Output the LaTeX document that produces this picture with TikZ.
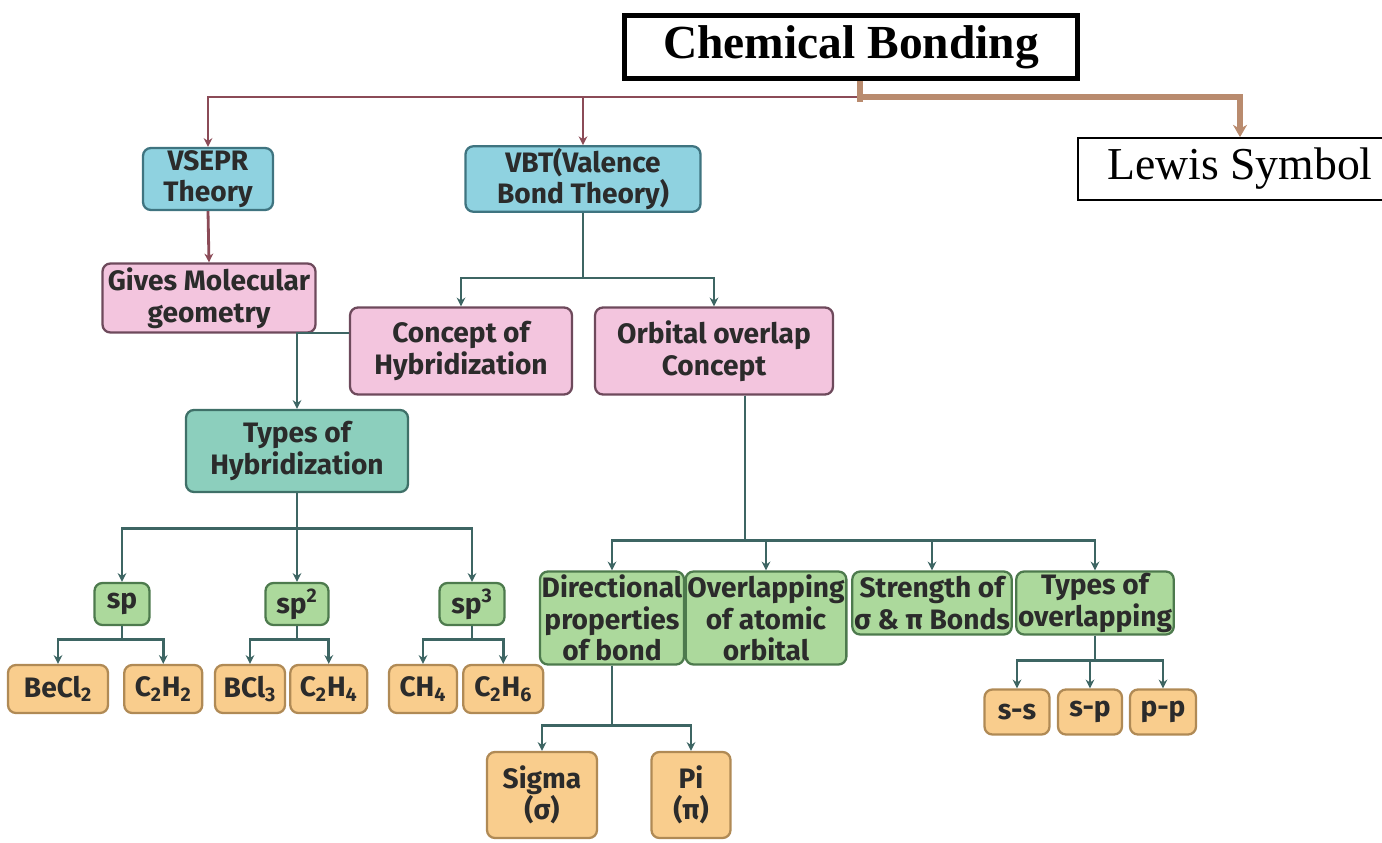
\documentclass[tikz,border=0pt]{standalone}
\usepackage{fontspec}
\setmainfont{Liberation Serif}
\newfontfamily\boxfont{Fira Sans}
\usetikzlibrary{positioning,arrows.meta}

\definecolor{txtc}{HTML}{2B2B2B}
\definecolor{bluef}{HTML}{8FD2E0}\definecolor{blued}{HTML}{3F7480}
\definecolor{pinkf}{HTML}{F3C5DE}\definecolor{pinkd}{HTML}{6E4A5C}
\definecolor{teaf}{HTML}{8CCFBD}\definecolor{tead}{HTML}{3F7068}
\definecolor{greenf}{HTML}{ACD99C}\definecolor{greend}{HTML}{4D7A4D}
\definecolor{orf}{HTML}{F9CD8D}\definecolor{ord}{HTML}{B08A55}
\definecolor{lowc}{HTML}{3D6563}
\definecolor{topc}{HTML}{8B4B57}
\definecolor{brownc}{HTML}{B98B6E}

\begin{document}
\begin{tikzpicture}[x=0.02cm,y=-0.02cm,
    box/.style={rounded corners=4.5pt,line width=1.3pt,align=center,text=txtc,
      inner sep=1pt,font=\boxfont\bfseries\fontsize{16}{18}\selectfont},
    bluebox/.style={box,fill=bluef,draw=blued},
    pinkbox/.style={box,fill=pinkf,draw=pinkd},
    teabox/.style={box,fill=teaf,draw=tead},
    grbox/.style={box,fill=greenf,draw=greend},
    orbox/.style={box,fill=orf,draw=ord},
    arr/.style={line width=1.6pt,draw=lowc,-{Stealth[length=5pt,width=5pt]}},
    toparr/.style={line width=1.6pt,draw=topc,-{Stealth[length=5pt,width=5pt]}},
    brownarr/.style={line width=3pt,draw=brownc}]
  \useasboundingbox (0,0) rectangle (1382,842);

  %% top
  \node[draw=black,line width=2.8pt,minimum width=9.06cm,minimum height=1.26cm,
    font=\bfseries\fontsize{27}{30}\selectfont] (cb) at (851,47) {Chemical Bonding};
  \node[draw=black,line width=1pt,minimum width=6.48cm,minimum height=1.24cm,
    font=\fontsize{26}{30}\selectfont] (lewis) at (1240,169) {Lewis Symbol};
  \coordinate (j) at (860,97);

  \node[bluebox,minimum width=2.6cm,minimum height=1.24cm] (vsepr) at (208,179) {VSEPR\\Theory};
  \node[bluebox,minimum width=4.7cm,minimum height=1.24cm] (vbt) at (583,179) {VBT(Valence\\Bond Theory)};
  \node[pinkbox,minimum width=4.26cm,minimum height=1.38cm] (gives) at (209,298) {Gives Molecular\\geometry};
  \node[pinkbox,minimum width=4.44cm,minimum height=1.74cm] (con) at (461,351) {Concept of\\Hybridization};
  \node[pinkbox,minimum width=4.76cm,minimum height=1.74cm] (orb) at (714,351) {Orbital overlap\\Concept};
  \node[teabox,minimum width=4.44cm,minimum height=1.64cm] (typ) at (297,451) {Types of\\Hybridization};

  %% hybridization
  \node[grbox,minimum width=1.1cm,minimum height=0.84cm] (sp) at (122,604) {sp};
  \node[grbox,minimum width=1.26cm,minimum height=0.84cm] (spb) at (297,604) {sp\textsuperscript{2}};
  \node[grbox,minimum width=1.3cm,minimum height=0.84cm] (spc) at (472,604) {sp\textsuperscript{3}};
  \node[orbox,minimum width=2cm,minimum height=0.96cm] (becl) at (58,689) {BeCl\textsubscript{2}};
  \node[orbox,minimum width=1.56cm,minimum height=0.96cm,right=0.28cm of becl] (cha) {C\textsubscript{2}H\textsubscript{2}};
  \node[orbox,minimum width=1.4cm,minimum height=0.96cm] (bcl) at (250,689) {BCl\textsubscript{3}};
  \node[orbox,minimum width=1.54cm,minimum height=0.96cm,right=0.06cm of bcl] (chb) {C\textsubscript{2}H\textsubscript{4}};
  \node[orbox,minimum width=1.36cm,minimum height=0.96cm] (ch) at (423,689) {CH\textsubscript{4}};
  \node[orbox,minimum width=1.6cm,minimum height=0.96cm,right=0.08cm of ch] (chc) {C\textsubscript{2}H\textsubscript{6}};

  %% overlap
  \node[grbox,minimum width=2.7cm,minimum height=1.86cm] (dir) at (612,618) {Directional\\properties\\of bond};
  \node[grbox,minimum width=3.06cm,minimum height=1.86cm] (ovl) at (766,618) {Overlapping\\of atomic\\orbital};
  \node[grbox,minimum width=3cm,minimum height=1.26cm] (str) at (932,603) {Strength of\\σ \& π Bonds};
  \node[grbox,minimum width=3.08cm,minimum height=1.26cm] (tov) at (1095,603) {Types of\\overlapping};
  \node[orbox,minimum width=2.2cm,minimum height=1.72cm] (sig) at (542,795) {Sigma\\(σ)};
  \node[orbox,minimum width=1.58cm,minimum height=1.72cm] (pi) at (691,795) {Pi\\(π)};
  \node[orbox,minimum width=1.3cm,minimum height=0.9cm] (ss) at (1017,712) {s-s};
  \node[orbox,minimum width=1.28cm,minimum height=0.9cm] (sps) at (1090,712) {s-p};
  \node[orbox,minimum width=1.32cm,minimum height=0.9cm] (pp) at (1163,712) {p-p};

  % connect
  \draw[toparr] (j) -| (vsepr.north);
  \draw[toparr] (j) -| (vbt.north);
  \draw[brownarr] (cb.south -| j) -- ([yshift=-3pt]j);
  \draw[brownarr,-{Stealth[length=7pt,width=8pt]}] (j) -| (lewis.north);
  \draw[toparr] (vsepr.south) -- (gives.north);
  \draw[arr] (vbt.south) -- ++(0,65) -| (con.north);
  \draw[arr] (vbt.south) ++(0,65) -| (orb.north);
  \draw[arr] ([yshift=0.36cm]con.west) -| (typ.north);
  \foreach \n in {sp,spb,spc}
    \draw[arr] (typ.south) -- ++(0,35) -| (\n.north);
  \foreach \a/\b/\c in {sp/becl/cha,spb/bcl/chb,spc/ch/chc}{
    \draw[arr] (\a.south) -- ++(0,13) -| (\b.north);
    \draw[arr] (\a.south) ++(0,13) -| (\c.north);
  }
  \foreach \n in {dir,ovl,str,tov}
    \draw[arr] ([xshift=0.62cm]orb.south) -- ++(0,145) -| (\n.north);
  \foreach \n in {sig,pi}
    \draw[arr] (dir.south) -- ++(0,60) -| (\n.north);
  \foreach \n in {ss,sps,pp}
    \draw[arr] (tov.south) -- ++(0,25) -| (\n.north);
\end{tikzpicture}
\end{document}
